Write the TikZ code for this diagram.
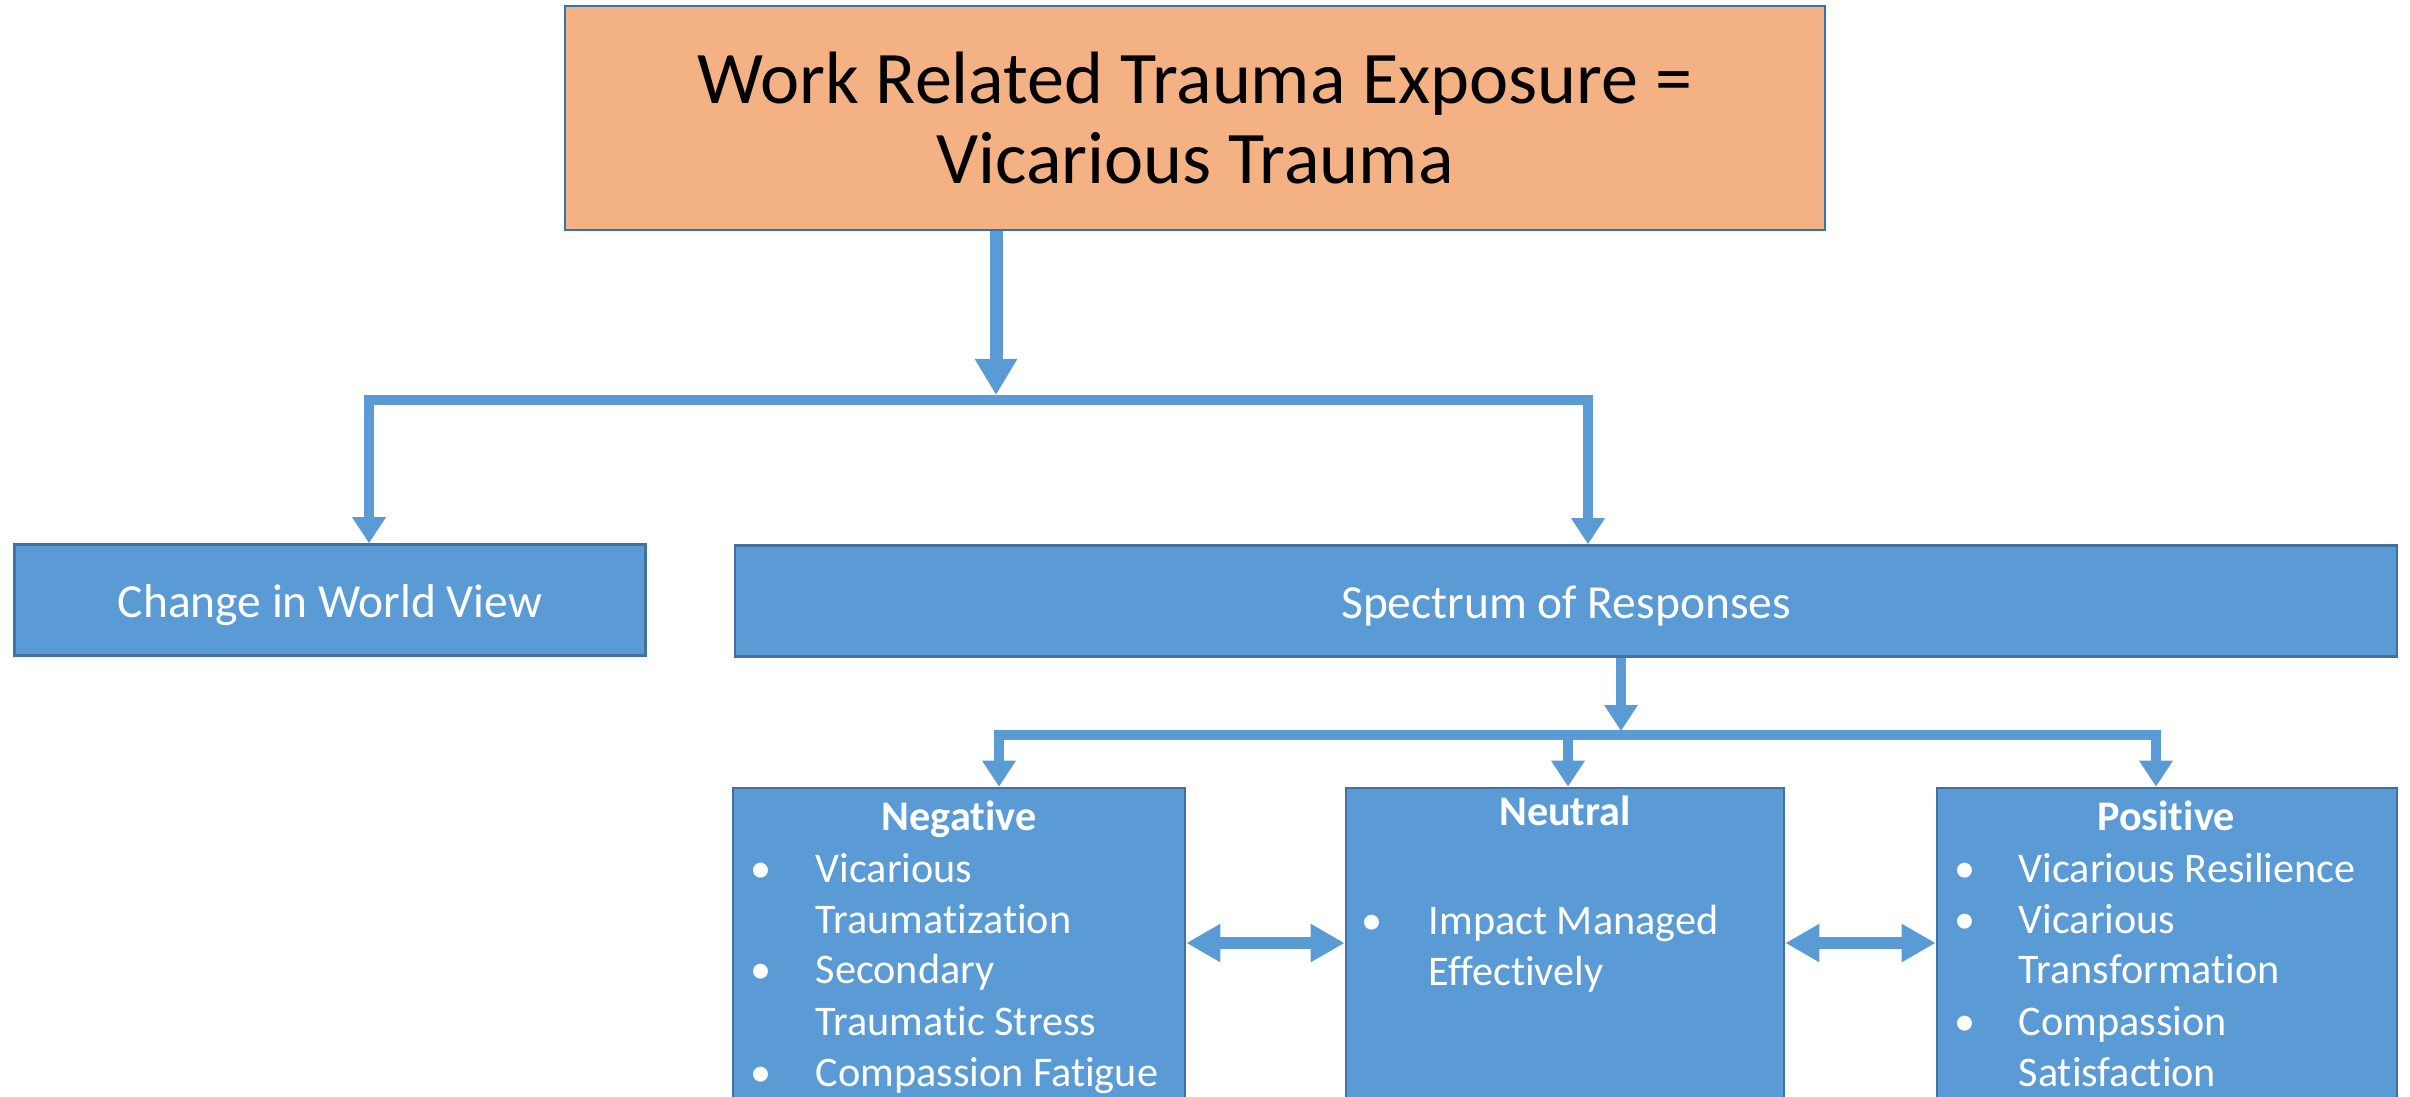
\documentclass[tikz,border=0pt]{standalone}
\usepackage{fontspec}
\setmainfont{Carlito}[Ligatures={NoCommon}]
\usetikzlibrary{arrows.meta}
\definecolor{boxblue}{HTML}{5B9BD5}
\definecolor{edgeblue}{HTML}{41719C}
\definecolor{peach}{HTML}{F4B183}
\definecolor{rimblue}{HTML}{2E75B6}

\begin{document}
\begin{tikzpicture}[x=0.01cm, y=-0.01cm, >={Triangle[width=0.32cm, length=0.26cm]},
    box/.style={rectangle, draw=edgeblue, line width=0.7pt, fill=boxblue, text=white, inner sep=0pt},
    mid/.style={box, minimum height=1.11cm, text height=9.7pt, text depth=0pt,
        font=\fontsize{13.5}{16}\selectfont},
    pane/.style={box, minimum height=3.1cm},
    hdr/.style={anchor=base, text=white, inner sep=0pt, font=\fontsize{12}{14}\selectfont\bfseries},
    item/.style={anchor=base west, text=white, inner sep=0pt, font=\fontsize{12}{14}\selectfont},
    dot/.style={anchor=base, text=white, inner sep=0pt, font=\fontsize{12}{14}\selectfont},
    link/.style={draw=boxblue, line width=0.1cm},
    twoway/.style={draw=boxblue, line width=0.12cm,
        {Triangle[width=0.36cm, length=0.34cm]}-{Triangle[width=0.36cm, length=0.34cm]}}]

    \useasboundingbox (0,0) rectangle (2410,1096);
    \clip (0,0) rectangle (2410,1096);

    % draw boxes
    \node [rectangle, draw=rimblue, line width=0.6pt, fill=peach, inner sep=0pt,
           minimum width=12.6cm, minimum height=2.24cm, align=center,
           font=\fontsize{21.1}{22.8}\selectfont]
        (title) at (1195,118) {Work Related Trauma Exposure =\\Vicarious Trauma};
    \node [mid, minimum width=6.31cm] (change) at (330,600) {Change in World View};
    \node [mid, minimum width=16.61cm] (spectrum) at (1566,601) {Spectrum of Responses};
    \foreach \x/\w/\t in {959/4.52/negative, 1565/4.38/neutral, 2167/4.60/positive}
        \node [pane, minimum width=\w cm] (\t) at (\x,943) {};

    % headings and bullet items
    \node [hdr] (hneg) at (959,830) {Negative};
    \node [hdr] (hneu) at (1565,825) {Neutral};
    \node [hdr] (hpos) at (2166,830) {Positive};
    \foreach [count=\i] \y/\t in {882/Vicarious, 933/Traumatization, 983/Secondary,
                                  1035/Traumatic Stress, 1086/Compassion Fatigue}
        \node [item] (neg\i) at (815,\y) {\t};
    \foreach [count=\i] \y/\t in {934/Impact Managed, 985/Effectively}
        \node [item] (neu\i) at (1428,\y) {\t};
    \foreach [count=\i] \y/\t in {882/Vicarious Resilience, 933/Vicarious, 983/Transformation,
                                  1035/Compassion, 1086/Satisfaction}
        \node [item] (pos\i) at (2018,\y) {\t};
    \foreach \x/\y/\t in {761/882/a, 761/983/b, 761/1086/c, 1372/934/d,
                          1965/882/e, 1965/933/f, 1965/1035/g}
        \node [dot] (dot\t) at (\x,\y) {\textbullet};

    % draw connectors
    \coordinate (top) at (996,400);
    \coordinate (topL) at (369,400);
    \coordinate (topR) at (1588,400);
    \coordinate (low) at (1621,735);
    \coordinate (lowL) at (999,735);
    \coordinate (lowM) at (1568,735);
    \coordinate (lowR) at (2156,735);

    \draw [draw=boxblue, line width=0.13cm, -{Triangle[width=0.4cm, length=0.36cm]}]
        (title.south -| top) -- ([yshift=0.05cm]top);
    \draw [link, <->] (topL |- change.north) -- (topL) -- (topR) -- (topR |- spectrum.north);
    \draw [link, ->] (spectrum.south -| low) -- ([yshift=0.04cm]low);
    \draw [link, <->] (lowL |- negative.north) -- (lowL) -- (lowR) -- (lowR |- positive.north);
    \draw [link, ->] (lowM) -- (lowM |- neutral.north);

    \foreach \i/\j in {negative/neutral, neutral/positive}
        \draw [twoway] (\i) -- (\j);

\end{tikzpicture}
\end{document}
